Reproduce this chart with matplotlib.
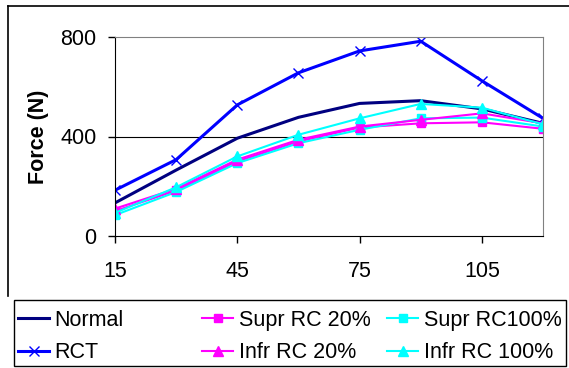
import matplotlib
matplotlib.use("Agg")
import matplotlib.pyplot as plt
from matplotlib.lines import Line2D
from matplotlib.patches import Rectangle

plt.rcParams['font.family'] = ['Liberation Sans', 'DejaVu Sans']

angles = [15, 30, 45, 60, 75, 90, 105, 120]
normal = [133, 265, 393, 477, 533, 544, 511, 453]
rct = [184, 307, 527, 656, 744, 783, 624, 473]
supr20 = [100, 183, 300, 380, 436, 453, 457, 431]
infr20 = [110, 190, 307, 387, 440, 467, 493, 453]
supr100 = [84, 177, 293, 373, 427, 473, 476, 440]
infr100 = [93, 196, 320, 407, 473, 531, 516, 449]

x_ticks = [15, 45, 75, 105]
y_ticks = [0, 400, 800]

W, H = 569, 368
FS = 15.5
fig = plt.figure(figsize=(W / 100, H / 100), dpi=100)

def fx(px):
    return px / W

def fy(py):
    return 1 - py / H

# outer chart border (left and top)
fig.add_artist(Line2D([fx(8), fx(8)], [fy(6), fy(296)], color='black', lw=1.2))
fig.add_artist(Line2D([fx(8), 1], [fy(6), fy(6)], color='black', lw=1.2))

ax = fig.add_axes([fx(115), fy(236), fx(543) - fx(115), fy(37) - fy(236)])
ax.set_xlim(15, 120)
ax.set_ylim(0, 800)

ax.axhline(400, color='black', lw=0.8, zorder=0)

ax.plot(angles, normal, color='#000080', lw=2.2, label='Normal')
ax.plot(angles, rct, color='#0000FF', lw=2.2, marker='x', ms=7, mew=1, label='RCT')
ax.plot(angles, supr20, color='#FF00FF', lw=1.5, marker='s', ms=6, label='Supr RC 20%')
ax.plot(angles, supr100, color='#00FFFF', lw=1.5, marker='s', ms=6, label='Supr RC100%')
ax.plot(angles, infr20, color='#FF00FF', lw=1.5, marker='^', ms=7, label='Infr RC 20%')
ax.plot(angles, infr100, color='#00FFFF', lw=1.5, marker='^', ms=7, label='Infr RC 100%')

ax.set_xticks(x_ticks)
ax.set_yticks(y_ticks)
ax.tick_params(axis='both', labelsize=FS, direction='out', length=5, width=1)
ax.tick_params(axis='x', pad=13)
ax.tick_params(axis='y', pad=8.5)

for s in ['top', 'right']:
    ax.spines[s].set_color('#808080')
for s in ['left', 'bottom']:
    ax.spines[s].set_color('black')

ax.set_ylabel('Force (N)', fontsize=FS, fontweight='bold', labelpad=8)

# legend frame
fig.add_artist(Rectangle((fx(14), fy(366)), fx(566) - fx(14), fy(300) - fy(366),
                         transform=fig.transFigure, facecolor='white',
                         edgecolor='black', lw=1.0))

handles, labels = ax.get_legend_handles_labels()
groups = [[0, 1], [2, 4], [3, 5]]
col_x = [18, 202, 387]
for g, cx in zip(groups, col_x):
    fig.legend([handles[i] for i in g], [labels[i] for i in g],
               loc='upper left', bbox_to_anchor=(fx(cx), fy(310)),
               fontsize=FS, frameon=False, handlelength=1.45,
               handletextpad=0.25, borderaxespad=0, borderpad=0,
               labelspacing=0.52)

fig.savefig('out.png', dpi=100)
